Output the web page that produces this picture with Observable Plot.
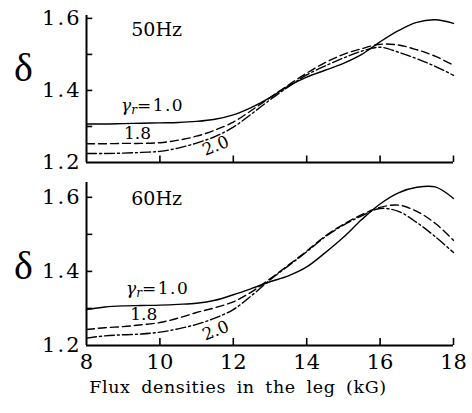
<!DOCTYPE html>
<html><head><meta charset="utf-8">
<script src="https://cdn.jsdelivr.net/npm/d3@7"></script>
<script src="https://cdn.jsdelivr.net/npm/@observablehq/plot@0.6"></script>
<style>
body{margin:0;background:#fff;}
#wrap{position:relative;width:472px;height:413px;background:#fff;}
#wrap svg{position:absolute;left:0;}
g[aria-label="y-axis tick label"] text{letter-spacing:2px;}
</style></head><body><div id="wrap"></div><script>
// ---- data ----
const fluxB = [8, 8.5, 9, 9.5, 10, 10.5, 11, 11.5, 12, 12.5, 13, 13.5, 14, 14.5, 15, 15.5, 16, 16.5, 17, 17.5, 18];
const gammaValues = ["1.0", "1.8", "2.0"];
// 50 Hz
const s50_g10 = [1.307,1.307,1.308,1.309,1.310,1.311,1.314,1.320,1.332,1.353,1.380,1.412,1.437,1.456,1.475,1.500,1.535,1.566,1.589,1.596,1.586];
const s50_g18 = [1.252,1.252,1.253,1.253,1.255,1.262,1.273,1.290,1.312,1.345,1.380,1.415,1.448,1.477,1.500,1.516,1.528,1.526,1.513,1.495,1.470];
const s50_g20 = [1.225,1.225,1.226,1.228,1.231,1.240,1.254,1.272,1.298,1.335,1.374,1.410,1.443,1.468,1.490,1.509,1.520,1.506,1.488,1.467,1.442];
// 60 Hz
const s60_g10 = [1.297,1.304,1.307,1.308,1.309,1.311,1.314,1.322,1.337,1.354,1.372,1.388,1.412,1.450,1.492,1.540,1.582,1.612,1.627,1.628,1.597];
const s60_g18 = [1.243,1.248,1.251,1.256,1.262,1.274,1.289,1.302,1.318,1.345,1.380,1.417,1.455,1.495,1.527,1.553,1.573,1.579,1.562,1.530,1.484];
const s60_g20 = [1.220,1.226,1.229,1.231,1.236,1.245,1.257,1.274,1.297,1.335,1.377,1.415,1.453,1.493,1.525,1.550,1.570,1.562,1.532,1.494,1.451];
// ticks
const xTickValues = [8, 10, 12, 14, 16, 18];
const yTickLabels = [1.2, 1.4, 1.6];
const yTickMarks = [1.3, 1.4, 1.5, 1.6];
// text
const panelTitles = ["50Hz", "60Hz"];
const yLabel = "δ";
const xLabel = "Flux densities in the leg (kG)";
const gammaLabel = "γr=1.0";
// annotation anchors (data units): [x, y] per panel
const titleAt = [[9.91, 1.567], [9.91, 1.597]];
const lab10At = [[9.80, 1.358], [9.94, 1.354]];
const lab18At = [[9.39, 1.281], [9.56, 1.283]];
const lab20At = [[11.52, 1.246], [11.52, 1.240]];

const font = "DejaVu Serif";
const dashes = {"1.0": null, "1.8": "8,4", "2.0": "10,3,2,3"};

function rows(vals, g) { return fluxB.map((x, i) => ({x, y: vals[i], g})); }

function panel(idx, series, cfg) {
  const data = series.flatMap((v, i) => rows(v, gammaValues[i]));
  const [ymin, ymax] = cfg.ydomain;
  const marks = [
    Plot.ruleX([8], {y1: ymin, y2: ymax, strokeWidth: 2}),
    Plot.ruleY([ymin], {x1: 8, x2: 18, strokeWidth: 2}),
    Plot.ruleY(yTickMarks, {x1: 8, x2: 8 + cfg.ytl, strokeWidth: 1.6}),
    Plot.ruleX(xTickValues.slice(1), {y1: ymin, y2: ymin + cfg.xtl, strokeWidth: 1.6}),
    Plot.axisY({ticks: yTickLabels, tickFormat: d3.format(".1f"), tickSize: 0, tickPadding: 5, fontSize: 21, label: null, fontFamily: font}),
    ...gammaValues.map(g => Plot.line(data.filter(d => d.g === g), {
      x: "x", y: "y", curve: "catmull-rom", strokeWidth: 1.4,
      strokeDasharray: dashes[g] || undefined
    })),
    Plot.text([panelTitles[idx]], {x: titleAt[idx][0], y: titleAt[idx][1], fontSize: 19, fontFamily: font}),
    Plot.text([gammaLabel], {x: lab10At[idx][0], y: lab10At[idx][1], fontSize: 17, fontFamily: font}),
    Plot.text([gammaValues[1]], {x: lab18At[idx][0], y: lab18At[idx][1], fontSize: 17, fontFamily: font}),
    Plot.text([gammaValues[2]], {x: lab20At[idx][0], y: lab20At[idx][1], fontSize: 17, fontFamily: font, rotate: -22}),
    Plot.text([yLabel], {frameAnchor: "top-left", textAnchor: "middle", lineAnchor: "middle", dx: -63, dy: cfg.glyphDy, fontSize: 40, fontFamily: "Liberation Serif"})
  ];
  if (cfg.bottom) {
    marks.push(Plot.axisX({ticks: xTickValues, tickSize: 0, tickPadding: 9, fontSize: 21, label: null, fontFamily: font}));
    marks.push(Plot.text([xLabel], {frameAnchor: "bottom", dx: -32, dy: 47, fontSize: 17.5, fontFamily: font}));
  }
  const svg = Plot.plot({
    width: 472, height: cfg.height,
    marginLeft: 86, marginRight: 19, marginTop: cfg.mt, marginBottom: cfg.mb,
    x: {domain: [8, 18], axis: null},
    y: {domain: cfg.ydomain, axis: null},
    style: {fontFamily: font, color: "black", background: "transparent", overflow: "visible"},
    marks
  });
  svg.style.top = cfg.top + "px";
  svg.querySelectorAll("text").forEach(t => {
    if (t.textContent === gammaLabel) {
      t.textContent = "";
      const ns = "http://www.w3.org/2000/svg";
      const a = document.createElementNS(ns, "tspan"); a.textContent = "γ"; a.setAttribute("font-style", "italic");
      const b = document.createElementNS(ns, "tspan"); b.textContent = "r"; b.setAttribute("font-style", "italic"); b.setAttribute("font-size", "12"); b.setAttribute("dy", "3");
      const c = document.createElementNS(ns, "tspan"); c.textContent = "=1.0"; c.setAttribute("dy", "-3"); c.setAttribute("letter-spacing", "1.5");
      t.append(a, b, c);
    } else if (t.textContent === xLabel) {
      t.style.letterSpacing = "0.6px"; t.style.wordSpacing = "4.5px";
    }
  });
  return svg;
}

const wrap = document.getElementById("wrap");
wrap.append(panel(0, [s50_g10, s50_g18, s50_g20], {
  top: 0, height: 170, mt: 15, mb: 8, ydomain: [1.2, 1.608], ytl: 0.17, xtl: 0.018, glyphDy: 53
}));
wrap.append(panel(1, [s60_g10, s60_g18, s60_g20], {
  top: 170, height: 243, mt: 12, mb: 68, ydomain: [1.2, 1.64], ytl: 0.17, xtl: 0.019, glyphDy: 84, bottom: true
}));
</script></body></html>
